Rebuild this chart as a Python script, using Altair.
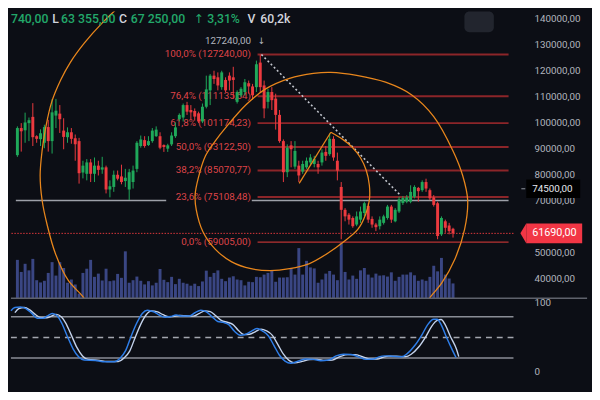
import altair as alt
import pandas as pd

# ---------------- data ----------------
opens = [87430, 97850, 96980, 99740, 102150, 94720, 93580, 92190, 98230, 92830,
         102640, 103400, 96870, 94340, 96230, 93960, 92830, 80750, 80260, 84640,
         80260, 83400, 81890, 82750, 74230, 75210, 79890, 79250, 77470, 74230,
         77090, 82150, 90940, 93210, 91320, 92830, 94720, 94720, 91320, 89920,
         91580, 94720, 101250, 101890, 106680, 104790, 104420, 103510, 100380, 106040,
         112340, 118000, 117360, 113580, 116340, 118000, 117360, 107920, 110450, 111700,
         115090, 113850, 113580, 123020, 114230, 107920, 111700, 109170, 102910, 92830,
         80870, 91210, 83020, 83400, 81130, 82750, 84640, 84040, 84040, 84640,
         88680, 87810, 93700, 85280, 75210, 66410, 64530, 63280, 60750, 62640,
         65170, 67920, 62910, 60750, 60110, 61400, 63280, 67660, 62000, 65770,
         69060, 69550, 69550, 71430, 74830, 73960, 77090, 73960, 71210, 68940,
         56980, 62000, 60380, 59130]
highs = [98490, 99740, 103770, 101890, 107430, 95090, 97360, 99130, 101020, 108940,
         109060, 106680, 101620, 98110, 97850, 95360, 94080, 85280, 85920, 85920,
         86530, 85280, 86790, 83400, 77740, 81510, 81510, 83770, 82150, 82150,
         83400, 92830, 94980, 94720, 94720, 97850, 98490, 96230, 91580, 91810,
         96230, 100000, 103510, 107280, 107920, 106680, 105400, 104150, 107280, 118000,
         118600, 119890, 119250, 119890, 117360, 119250, 121400, 112340, 113580, 116720,
         116110, 114830, 123770, 126150, 116110, 112940, 113580, 111060, 104790, 93470,
         91580, 92830, 92830, 85280, 85280, 86530, 87810, 87170, 85280, 89700,
         90940, 95740, 94720, 88420, 77090, 67060, 65170, 63890, 65770, 67660,
         69550, 68940, 63890, 61400, 63890, 64530, 68300, 68300, 67060, 71430,
         71700, 72080, 75850, 75850, 75210, 77740, 78380, 74600, 72080, 69550,
         63890, 62640, 61400, 59510]
lows = [86790, 88790, 92190, 92830, 90940, 92190, 90940, 90080, 88790, 88040,
        97850, 95960, 89700, 92190, 91810, 85280, 76490, 78490, 77740, 77090,
        77090, 79620, 80260, 72720, 71210, 73320, 77740, 76230, 75210, 70190,
        74600, 80870, 90300, 90300, 90940, 92190, 94450, 89700, 88680, 88680,
        90940, 94080, 100380, 100380, 102910, 101020, 100750, 99740, 99740, 105400,
        106680, 114830, 112340, 112570, 111700, 112340, 109170, 107280, 109810, 110450,
        111060, 108790, 111700, 111700, 101620, 105400, 104790, 97250, 92190, 77090,
        78980, 82750, 82150, 77090, 80260, 82150, 83400, 82750, 80260, 83400,
        85280, 87170, 85280, 77740, 55090, 62000, 60750, 59510, 60110, 61400,
        63890, 61400, 59510, 58230, 58870, 60750, 62640, 61400, 61620, 65170,
        68300, 68940, 68940, 70830, 69550, 73320, 73320, 70190, 67660, 55090,
        56340, 57620, 56980, 55740]
closes = [97850, 96600, 100000, 100870, 94340, 93700, 95850, 98230, 92830, 103890,
          104530, 101250, 94450, 96230, 93700, 91580, 80490, 83400, 84640, 80260,
          83400, 81770, 82750, 74230, 75470, 79890, 78380, 77090, 78750, 80870,
          81510, 92190, 93470, 90940, 92830, 96870, 97250, 90300, 90570, 91210,
          94980, 98110, 102910, 106680, 104150, 103890, 102260, 100380, 106040, 112720,
          118000, 116720, 114230, 119250, 112340, 116110, 116340, 111700, 112940, 115470,
          113850, 110450, 122380, 113580, 105400, 111700, 108570, 102910, 92830, 80870,
          90300, 89700, 89060, 79620, 84040, 85280, 86530, 85920, 82750, 88420,
          87170, 93700, 86530, 81510, 66410, 63890, 62640, 60110, 63890, 65770,
          68940, 62640, 60750, 59740, 62640, 63890, 67660, 62640, 66410, 70450,
          70940, 71210, 73320, 75210, 73580, 77090, 74600, 70830, 68300, 56340,
          63280, 59510, 58230, 57360]
volumes = [39, 26.7, 35, 28.3, 40, 18.3, 16, 17.7, 25.7, 36.7,
           23, 36.7, 30.7, 15.7, 19, 14, 4.7, 25.7, 30, 39,
           21.7, 25, 18, 30, 17.3, 18, 24.7, 20.7, 47.7, 15.7,
           18.3, 22, 17.7, 14, 17.3, 13, 15.7, 29.7, 18.7, 16.3,
           21.7, 14.3, 19.7, 15.7, 14.7, 12.7, 14.7, 12.3, 17, 28,
           21.7, 25.7, 28.3, 19.7, 17.3, 21, 22.3, 19, 18.3, 13,
           16.7, 16.3, 21.7, 21.3, 24, 25.7, 28.3, 16.7, 21, 21,
           21.3, 30.7, 24, 51, 24, 38, 31.3, 30.3, 15.7, 19,
           25, 27.7, 24, 18.3, 56, 26.7, 19, 23, 19.7, 28.3,
           30.7, 24, 21, 25, 23, 23.3, 22, 26.3, 17.7, 21.7,
           24, 24, 26.3, 23.3, 17.7, 19, 17.7, 21.7, 33, 27.3,
           41, 24, 20, 15]

fib_ratios = [1.0, 0.764, 0.618, 0.5, 0.382, 0.236, 0.0]
fib_prices = [127240.00, 111135.54, 101174.23, 93122.50, 85070.77, 75108.48, 59005.00]
fib_levels = [126150, 110080, 99740, 90570, 81510, 71320, 53960]   # where the lines sit on this axis
fib_start_i = 62.3
fib_label_i = 60.6

price_ticks = [40000, 50000, 70000, 80000, 90000, 100000, 110000, 120000, 130000, 140000]
osc_ticks = [0, 100]
osc_levels = [80, 20]
osc_mid = [50]

hline_price = 70000
hline_start = [-0.4, 60.8]
hline_end = [38.6, 127.41]
cross_price = 74500
last_price_label = 61690.00
high_label = 127240.00
high_label_price = 131320

header_texts = ["740,00", "L", "63 355,00", "C", "67 250,00", "\u2191", "3,31%", "V", "60,2k"]
header_kind = ["num", "key", "num", "key", "num", "num", "num", "key", "key"]

trend_i = [63.3, 99.3]
trend_p = [126150, 72080]

spiral_line_i = [73.1, 81.3]
spiral_line_p = [76600, 96230]
spiral_in_i = [81.3, 84.3, 86.8, 89.0, 90.5, 91.3, 91.3, 90.3, 88.3, 84.8,
               80.6, 75.6, 70.6, 65.6, 60.6, 55.6, 51.3, 48.1, 46.4, 46.1,
               46.9, 48.8, 51.3, 54.3, 59.3, 64.3, 70.6, 76.8, 81.3, 88.0,
               95.5, 102.3, 108.0, 113.0, 115.5, 116.8, 116.0, 113.5, 110.0, 107.3, 104.3]
spiral_in_p = [96230, 93590, 90570, 86420, 81510, 75850, 70190, 64530, 58870, 54340,
               49810, 45660, 43770, 43020, 43770, 46420, 51320, 58110, 66420, 72080,
               78490, 87170, 92830, 98490, 106790, 112830, 116980, 118870, 119250, 118110,
               115470, 110570, 102260, 89060, 79620, 70190, 58870, 47550, 38110, 33210, 26790]
spiral_out_i = [18.9, 16.9, 13.2, 9.9, 7.7, 6.4, 5.9, 6.4, 7.4, 8.9, 11.2, 13.7, 17.4, 21.9, 27.4, 31.3]
spiral_out_p = [28680, 33210, 39250, 49430, 60760, 70190, 79620, 89060, 98490, 107920,
                116230, 123020, 130570, 138110, 145660, 149430]

k_i = [-0.4, 0.6, 2.0, 3.4, 4.9, 6.3, 7.7, 8.9, 10.1, 11.4,
       12.5, 13.9, 15.4, 16.8, 18.2, 21.1, 23.0, 25.9, 27.3, 28.8,
       30.2, 31.6, 33.0, 34.3, 35.9, 37.3, 38.8, 40.2, 41.6, 43.1,
       45.0, 46.4, 47.9, 49.3, 50.7, 52.2, 53.6, 55.0, 56.4, 57.9,
       59.3, 60.8, 62.2, 63.6, 65.1, 66.5, 67.9, 69.3, 70.8, 72.7,
       74.6, 76.5, 78.4, 80.3, 82.3, 84.2, 86.1, 88.0, 89.9, 91.8,
       93.2, 94.7, 96.6, 99.0, 100.4, 102.3, 104.2, 105.6, 107.1, 108.0,
       109.0, 110.4, 111.9, 112.8]
k_v = [88.7, 93.4, 94.3, 92.0, 84.9, 77.9, 77.9, 81.2, 84.9, 81.2,
       70.9, 52.1, 33.4, 21.7, 17.0, 16.5, 14.7, 14.7, 19.4, 31.1,
       52.1, 70.9, 84.9, 89.6, 87.3, 82.6, 79.3, 80.3, 82.6, 81.2,
       81.2, 85.9, 89.6, 87.3, 80.3, 73.2, 71.8, 68.6, 59.2, 53.1,
       54.5, 59.2, 62.9, 59.2, 52.1, 38.1, 24.0, 15.6, 12.3, 15.6,
       18.4, 18.0, 16.1, 17.0, 23.1, 25.4, 25.0, 21.7, 18.0, 18.4,
       21.7, 23.1, 22.6, 21.7, 26.4, 38.1, 54.5, 68.6, 76.5, 76.5,
       68.6, 49.8, 31.1, 20.7]
d_i = [0.6, 1.6, 3.0, 4.4, 5.9, 7.3, 8.7, 9.9, 11.1, 12.4,
       13.5, 14.9, 16.4, 17.8, 19.2, 22.1, 24.0, 26.9, 28.3, 29.8,
       31.2, 32.6, 34.0, 35.3, 36.9, 38.3, 39.8, 41.2, 42.6, 44.1,
       46.0, 47.4, 48.9, 50.3, 51.7, 53.2, 54.6, 56.0, 57.4, 58.9,
       60.3, 61.8, 63.2, 64.6, 66.1, 67.5, 68.9, 70.3, 71.8, 73.7,
       75.6, 77.5, 79.4, 81.3, 83.3, 85.2, 87.1, 89.0, 90.9, 92.8,
       94.2, 95.7, 97.6, 100.0, 101.4, 103.3, 105.2, 106.6, 108.1, 109.0,
       110.0, 111.4, 112.9, 113.5]
d_v = [86, 92, 93.5, 90, 83, 78.5, 78.5, 81, 83.5, 80,
       71, 54, 35, 23, 18, 16.5, 15, 15, 19.5, 30,
       50, 69, 83, 88.5, 87, 83, 80, 80.5, 82, 81.5,
       81, 84.5, 88.5, 87.5, 81.5, 74.5, 72, 69, 60.5, 54,
       54.5, 58.5, 62, 59.5, 53, 39.5, 25.5, 16.5, 13, 15,
       17.8, 18, 16.5, 17, 22, 25, 25, 22, 18.5, 18.5,
       21, 22.8, 22.6, 22, 25.5, 36, 52, 66, 75, 76,
       69, 51, 33, 22]

# ---------------- style ----------------
BG = "#0c0e15"
UP = "#1fa85a"
DOWN = "#ec3a3f"
VOLC = "#3a4683"
FIB_LINE = "#8c2529"
FIB_ZERO = "#b83333"
FIB_TEXT = "#df4448"
ORANGE = "#e8861c"
AXC = "#b2b5be"
HDR_GREEN = "#22a86a"
HDR_KEY = "#d1d4dc"
CURR = "#f23645"
FONT = "Roboto"

W, H_TOP, H_OSC = 512, 292, 92
XMIN, XMAX = -0.4, 127.41
XS = alt.Scale(domain=[XMIN, XMAX], nice=False, zero=False)
YS = alt.Scale(domain=[32453, 142642], nice=False, zero=False)
VS = alt.Scale(domain=[0, 292], nice=False)
OS = alt.Scale(domain=[-24.3, 107.1], nice=False, zero=False)


def fmt(v):
    return f"{v:.2f}".replace(".", ",")


PAX = alt.Axis(orient="right", values=price_ticks,
               labelExpr="replace(format(datum.value, '.2f'), '.', ',')",
               ticks=False, domain=False, grid=False, labelPadding=21,
               labelColor=AXC, labelFont=FONT, labelFontSize=10, title=None,
               labelFlush=False, labelOverlap=False)
OAX = alt.Axis(orient="right", values=osc_ticks, format="d", ticks=False, domain=False,
               grid=False, labelPadding=21, labelColor=AXC, labelFont=FONT,
               labelFontSize=10, title=None, labelFlush=False, labelOverlap=False)


def X(f="i"):
    return alt.X(f"{f}:Q", scale=XS, axis=None)


def Y(f):
    return alt.Y(f"{f}:Q", scale=YS, axis=PAX)


def OY(f):
    return alt.Y(f"{f}:Q", scale=OS, axis=OAX)


ONE = pd.DataFrame({"k": [0]})

n = len(opens)
candles = pd.DataFrame({"i": list(range(n)), "open": opens, "high": highs,
                        "low": lows, "close": closes, "vol": volumes})
candles["dir"] = ["up" if c >= o else "down" for o, c in zip(opens, closes)]
dir_color = alt.Color("dir:N", scale=alt.Scale(domain=["up", "down"], range=[UP, DOWN]), legend=None)

base = alt.Chart(candles)
vol = base.mark_bar(size=3, color=VOLC).encode(x=X(), y=alt.Y("vol:Q", scale=VS, axis=None))
wicks = base.mark_rule(strokeWidth=1).encode(x=X(), y=Y("low"), y2="high", color=dir_color)
bodies = base.mark_bar(size=3).encode(x=X(), y=Y("open"), y2="close", color=dir_color)

hl_df = pd.DataFrame({"x1": hline_start, "x2": hline_end, "p": [hline_price] * 2})
hline = alt.Chart(hl_df).mark_rule(color="#9da0a8", strokeWidth=1.6).encode(
    x=X("x1"), x2="x2", y=Y("p"))

cur_df = pd.DataFrame({"p": [closes[-1]], "t": [fmt(last_price_label)]})
cur_line = alt.Chart(cur_df).mark_rule(color="#e0383c", strokeWidth=1, strokeDash=[1.5, 1.5]).encode(y=Y("p"))

fib_df = pd.DataFrame({
    "p": fib_levels,
    "label": [f"{r * 100:.1f}%".replace(".", ",") + " (" + fmt(v) + ")" for r, v in zip(fib_ratios, fib_prices)],
    "x1": [fib_start_i] * 7, "x2": [XMAX] * 7, "xl": [fib_label_i] * 7,
    "zero": [r == 0 for r in fib_ratios],
})
fib_main = alt.Chart(fib_df[~fib_df.zero]).mark_rule(color=FIB_LINE, strokeWidth=2).encode(
    x=X("x1"), x2="x2", y=Y("p"))
fib_zero = alt.Chart(fib_df[fib_df.zero]).mark_rule(color=FIB_ZERO, strokeWidth=1.2).encode(
    x=X("x1"), x2="x2", y=Y("p"))
fib_text = alt.Chart(fib_df).mark_text(align="right", baseline="middle", color=FIB_TEXT,
                                       font=FONT, fontSize=10).encode(x=X("xl"), y=Y("p"), text="label:N")

hi_df = pd.DataFrame({"xl": [fib_label_i], "xa": [trend_i[0]], "p": [high_label_price], "t": [fmt(high_label)]})
hi_text = alt.Chart(hi_df).mark_text(align="right", baseline="middle", color=AXC, font=FONT,
                                     fontSize=10).encode(x=X("xl"), y=Y("p"), text="t:N")
hi_arrow = alt.Chart(hi_df).mark_text(text="\u2193", align="center", baseline="middle", color=AXC,
                                      font="DejaVu Sans", fontSize=9).encode(x=X("xa"), y=Y("p"))

tr_df = pd.DataFrame({"i": trend_i, "p": trend_p})
trend = alt.Chart(tr_df).mark_line(color="#c3c6ce", strokeWidth=1.6, strokeDash=[2, 2.5]).encode(x=X(), y=Y("p"))

sp_rows = []
for seg, (ii, pp) in enumerate([(spiral_line_i, spiral_line_p), (spiral_in_i, spiral_in_p),
                                 (spiral_out_i, spiral_out_p)]):
    for s, (a, b) in enumerate(zip(ii, pp)):
        sp_rows.append({"seg": seg, "seq": s, "i": a, "p": b})
sp_df = pd.DataFrame(sp_rows)
spiral = alt.Chart(sp_df).mark_line(color=ORANGE, strokeWidth=1.3, clip=True,
                                    interpolate="catmull-rom").encode(
    x=X(), y=Y("p"), detail="seg:N", order="seq:Q")

# right-hand price labels
cross_df = pd.DataFrame({"p": [cross_price], "t": [fmt(cross_price)]})
cross_box = alt.Chart(cross_df).mark_rule(color="#000000", strokeWidth=19).encode(
    x=alt.value(525), x2=alt.value(580), y=Y("p"))
cross_dash = alt.Chart(cross_df).mark_rule(color="#9598a1", strokeWidth=1).encode(
    x=alt.value(520), x2=alt.value(524), y=Y("p"))
cross_text = alt.Chart(cross_df).mark_text(align="left", baseline="middle", color="#e6e8ee",
                                           font=FONT, fontSize=10).encode(x=alt.value(531), y=Y("p"), text="t:N")
cur_box = alt.Chart(cur_df).mark_rule(color=CURR, strokeWidth=20).encode(
    x=alt.value(525), x2=alt.value(582), y=Y("p"))
cur_tip = alt.Chart(cur_df).mark_point(shape="M -0.6 0 L 0 -1 L 0 1 Z", filled=True, size=400,
                                       color=CURR, opacity=1, strokeWidth=0).encode(x=alt.value(525), y=Y("p"))
cur_text = alt.Chart(cur_df).mark_text(align="left", baseline="middle", color="#ffffff",
                                       font=FONT, fontSize=11).encode(x=alt.value(531), y=Y("p"), text="t:N")

# header line
header_x = [0, 42, 51, 110, 122, 186, 200, 241, 254]
header = []
for t, kind, hx in zip(header_texts, header_kind, header_x):
    header.append(alt.Chart(ONE).mark_text(
        text=t, align="left", baseline="middle", font=FONT if t != "\u2191" else "DejaVu Sans",
        fontSize=12.5, fontWeight=500,
        color=HDR_GREEN if kind == "num" else HDR_KEY).encode(x=alt.value(hx), y=alt.value(8)))
button = alt.Chart(ONE).mark_rect(color="#22252e", cornerRadius=5).encode(
    x=alt.value(462), x2=alt.value(492), y=alt.value(0), y2=alt.value(21))

price_layers = alt.layer(hline, cur_line, fib_main, fib_zero, fib_text, hi_text, hi_arrow,
                         wicks, bodies, trend, spiral,
                         cross_box, cross_dash, cross_text, cur_box, cur_tip, cur_text,
                         *header, button)
top = alt.layer(vol, price_layers).resolve_scale(y="independent").properties(width=W, height=H_TOP)

# ---------------- oscillator ----------------
lv_df = pd.DataFrame({"v": osc_levels})
mid_df = pd.DataFrame({"v": osc_mid})
osc_lines = alt.Chart(lv_df).mark_rule(color="#8a8d96", strokeWidth=1.5).encode(y=OY("v"))
osc_midline = alt.Chart(mid_df).mark_rule(color="#a3a6af", strokeWidth=1.5, strokeDash=[6, 5]).encode(y=OY("v"))
d_df = pd.DataFrame({"i": d_i, "v": d_v})
k_df = pd.DataFrame({"i": k_i, "v": k_v})
d_line = alt.Chart(d_df).mark_line(color="#c4d3ec", strokeWidth=1.4, interpolate="monotone").encode(x=X(), y=OY("v"))
k_line = alt.Chart(k_df).mark_line(color="#2f7ee8", strokeWidth=1.5, interpolate="monotone").encode(x=X(), y=OY("v"))
sep = alt.Chart(ONE).mark_rule(color="#5f626c", strokeWidth=1.5).encode(
    x=alt.value(0), x2=alt.value(587), y=alt.value(0))

osc = alt.layer(osc_lines, osc_midline, d_line, k_line, sep).properties(width=W, height=H_OSC)

chart = alt.vconcat(top, osc, spacing=0, bounds="flush").resolve_scale(
    x="independent", y="independent", color="independent"
).properties(padding=0, background=BG).configure_view(strokeWidth=0)

chart.save("out.html", embed_options={"renderer": "svg", "actions": False})
